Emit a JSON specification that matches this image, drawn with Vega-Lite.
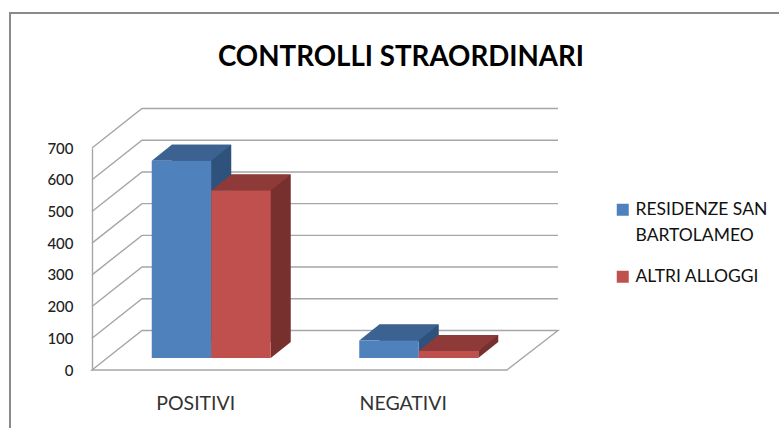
{"$schema":"https://vega.github.io/schema/vega-lite/v6.json","width":415,"height":222,"autosize":{"type":"none"},"padding":{"left":92,"top":148,"right":272,"bottom":58},"background":"white","view":{"stroke":null},"config":{"font":"Lato","axis":{"labelFont":"Lato"},"axisY":{"tickCount":8,"labelOverlap":false,"labelBound":false,"labelFlush":false},"legend":{"labelFont":"Lato"}},"title":{"text":"CONTROLLI STRAORDINARI","anchor":"middle","frame":"group","dx":101.5,"offset":-63,"fontSize":27.7,"fontWeight":"bold","font":"Lato","color":"#000000"},"datasets":{"bars":[{"esito":"POSITIVI","serie":"RESIDENZE SAN BARTOLAMEO","controlli":622},{"esito":"POSITIVI","serie":"ALTRI ALLOGGI","controlli":528},{"esito":"NEGATIVI","serie":"RESIDENZE SAN BARTOLAMEO","controlli":55},{"esito":"NEGATIVI","serie":"ALTRI ALLOGGI","controlli":22}],"griglia":[{"v":100},{"v":200},{"v":300},{"v":400},{"v":500},{"v":600},{"v":700}]},"layer":[{"data":{"values":[{"cornice":1}]},"mark":{"type":"point","shape":"M-289.5 172 L-289.5 -246 L480 -246","size":4,"filled":false,"stroke":"#8a8a8a","strokeWidth":2,"opacity":1},"encoding":{}},{"data":{"name":"griglia"},"mark":{"type":"point","shape":"M-207.5 0 L-157.5 -39.5 L258.5 -39.5","size":4,"filled":false,"stroke":"#a6a6a6","strokeWidth":1.4,"opacity":1},"encoding":{"y":{"field":"v","type":"quantitative","scale":{"domain":[0,700]},"axis":{"title":null,"grid":false,"ticks":false,"domain":true,"domainColor":"#a6a6a6","domainWidth":1.4,"labelPadding":19,"labelFontSize":15,"labelFontWeight":500,"labelColor":"#222222"}}}},{"data":{"values":[{"v":0}]},"mark":{"type":"point","shape":"M-207.5 0 L-157.5 -39.5 L258.5 -39.5 L207.5 0 Z","size":4,"filled":false,"stroke":"#a6a6a6","strokeWidth":1.4,"opacity":1},"encoding":{"y":{"field":"v","type":"quantitative"}}},{"data":{"name":"bars"},"layer":[{"mark":{"type":"bar","yOffset":-28,"size":59.5},"encoding":{"x":{"field":"esito","type":"nominal","sort":["POSITIVI","NEGATIVI"],"scale":{"paddingInner":0,"paddingOuter":0},"axis":{"title":null,"labelAngle":0,"ticks":false,"domain":false,"labelPadding":24,"labelFontSize":19.5,"labelColor":"#333333"}},"xOffset":{"field":"serie","type":"nominal","sort":["RESIDENZE SAN BARTOLAMEO","ALTRI ALLOGGI"],"scale":{"range":[79.75,198.75]}},"y":{"field":"controlli","type":"quantitative"},"color":{"condition":{"test":"datum.serie=='ALTRI ALLOGGI'","value":"#78302f"},"value":"#2f527c"}}},{"layer":[{"mark":{"type":"point","shape":"M29.75 0 L29.75 -16 L49.75 -16 Z","size":4,"filled":true,"opacity":1,"yOffset":-12,"strokeWidth":0},"encoding":{"x":{"field":"esito","type":"nominal","sort":["POSITIVI","NEGATIVI"]},"xOffset":{"field":"serie","type":"nominal","sort":["RESIDENZE SAN BARTOLAMEO","ALTRI ALLOGGI"],"scale":{"range":[59.75,178.75]}},"y":{"datum":0,"type":"quantitative"},"color":{"condition":{"test":"datum.serie=='ALTRI ALLOGGI'","value":"#78302f"},"value":"#2f527c"}}},{"mark":{"type":"point","shape":"M-29.75 0 L29.75 0 L49.75 -16 L-9.75 -16 Z","size":4,"filled":true,"opacity":1,"yOffset":-12,"strokeWidth":0},"encoding":{"x":{"field":"esito","type":"nominal","sort":["POSITIVI","NEGATIVI"]},"xOffset":{"field":"serie","type":"nominal","sort":["RESIDENZE SAN BARTOLAMEO","ALTRI ALLOGGI"]},"y":{"field":"controlli","type":"quantitative"},"color":{"condition":{"test":"datum.serie=='ALTRI ALLOGGI'","value":"#8d3a38"},"value":"#3b6290"}}},{"mark":{"type":"bar","yOffset":-12,"size":59.5},"encoding":{"x":{"field":"esito","type":"nominal","sort":["POSITIVI","NEGATIVI"]},"xOffset":{"field":"serie","type":"nominal","sort":["RESIDENZE SAN BARTOLAMEO","ALTRI ALLOGGI"]},"y":{"field":"controlli","type":"quantitative"},"color":{"field":"serie","type":"nominal","sort":["RESIDENZE SAN BARTOLAMEO","ALTRI ALLOGGI"],"scale":{"domain":["RESIDENZE SAN BARTOLAMEO","ALTRI ALLOGGI"],"range":["#4f81bd","#c0504d"]},"legend":{"orient":"none","legendX":522,"legendY":53,"title":null,"symbolType":"square","symbolSize":144,"symbolOpacity":1,"symbolStrokeWidth":0,"labelFontSize":17.5,"labelColor":"#111111","labelOffset":4,"rowPadding":22,"labelExpr":"datum.label=='RESIDENZE SAN BARTOLAMEO' ? ['RESIDENZE SAN','BARTOLAMEO'] : datum.label","labelLimit":300,"encoding":{"labels":{"lineHeight":{"value":26}}}}}}}]}],"resolve":{"scale":{"xOffset":"independent"}}}]}
